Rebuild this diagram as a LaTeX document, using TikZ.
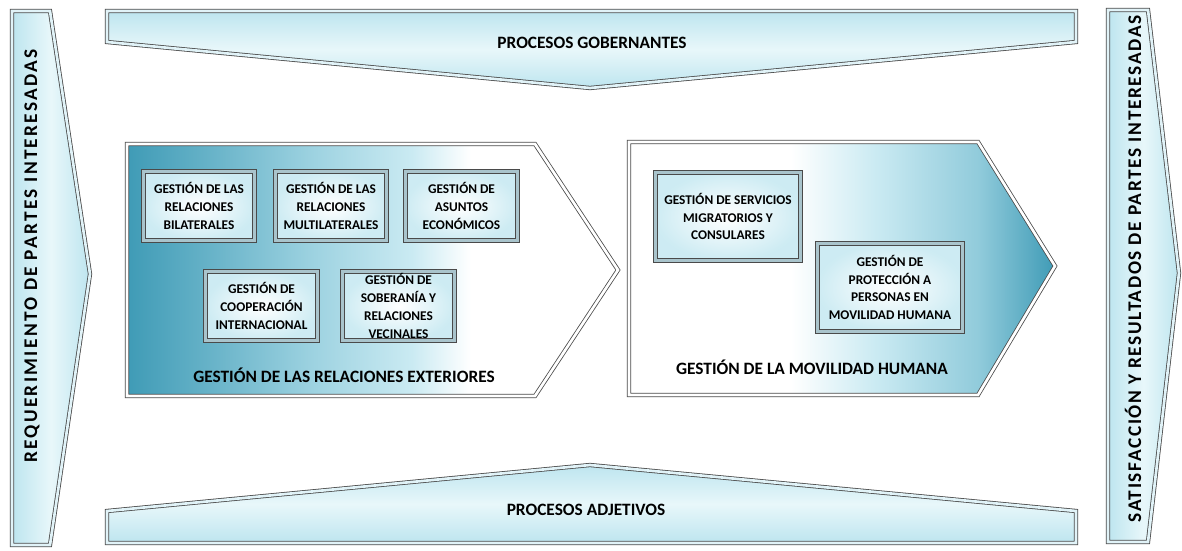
\documentclass[tikz,border=0pt]{standalone}
\usepackage{fontspec}
\setmainfont{Carlito}
\definecolor{tealdark}{HTML}{3F9BB6}
\definecolor{sky}{HTML}{BDE5EF}
\definecolor{pale}{HTML}{E8F7FA}
\definecolor{bevel}{HTML}{A9C4CC}
\definecolor{rim}{HTML}{4A4A4A}
\pgfdeclarehorizontalshading{extshade}{100bp}{color(0bp)=(tealdark); color(25bp)=(tealdark); color(33bp)=(tealdark!70!sky); color(44bp)=(tealdark!25!sky); color(54bp)=(sky!80!white); color(60bp)=(white); color(100bp)=(white)}
\pgfdeclarehorizontalshading{movshade}{100bp}{color(0bp)=(white); color(44bp)=(white); color(54bp)=(sky!80!white); color(66bp)=(tealdark!35!sky); color(75bp)=(tealdark); color(100bp)=(tealdark)}
\begin{document}
\begin{tikzpicture}[x=0.75pt,y=-0.75pt]
		\tikzset{band/.style = {draw=rim, line width=0.6pt, double=white!55!sky, double distance=2pt},
			box/.style = {draw=rim, line width=0.75pt, double=bevel, double distance=2.4pt, inner color=white, outer color=sky!75!white, minimum width=83.5pt, minimum height=52pt, align=center, inner sep=1pt, font=\bfseries\fontsize{10}{13.3}\selectfont},
			bigbox/.style = {box, minimum width=109pt, minimum height=65.5pt},
			title/.style = {font=\bfseries\fontsize{13}{15}\selectfont},
			side/.style = {rotate=90, font=\bfseries\fontsize{14.5}{17}\selectfont\addfontfeature{LetterSpace=#1}},
			side/.default = 8.5}

		\useasboundingbox (0,0) rectangle (1182,550);

		% side arrows
		\draw[band, left color=sky, right color=sky, middle color=pale] (12,11) -- (50,11) -- (90,274) -- (50,545) -- (12,545) -- cycle;
		\draw[band, left color=sky, right color=sky, middle color=pale] (1108,10) -- (1148,10) -- (1179,273) -- (1148,542) -- (1108,542) -- cycle;

		% top and bottom chevrons
		\draw[band, top color=sky, bottom color=sky, middle color=pale] (107,11) -- (1076,11) -- (1076,42) -- (590,88) -- (107,42) -- cycle;
		\draw[band, top color=sky, bottom color=sky, middle color=pale] (107,543) -- (1076,543) -- (1076,511) -- (590,465) -- (107,511) -- cycle;

		% process blocks
		\draw[band, double=white, shading=extshade] (127,144) -- (535,144) -- (618,270) -- (535,396) -- (127,396) -- cycle;
		\draw[band, double=white, shading=movshade] (629,142) -- (978,142) -- (1055,266) -- (978,395) -- (629,395) -- cycle;

		\node[side=12] (req) at (32,256) {REQUERIMIENTO  DE PARTES INTERESADAS};
		\node[side] (sat) at (1133,269) {SATISFACCIÓN Y RESULTADOS DE PARTES INTERESADAS};
		\node[title] (gob) at (592,43) {PROCESOS GOBERNANTES};
		\node[title] (adj) at (586,510) {PROCESOS ADJETIVOS};
		\node[title] (ext) at (344,375) {GESTIÓN DE LAS RELACIONES EXTERIORES};
		\node[title] (mov) at (812,367) {GESTIÓN DE LA MOVILIDAD HUMANA};

		\node[box] (B_1) at (199,206) {GESTIÓN DE LAS\\RELACIONES\\BILATERALES};
		\node[box] (B_2) at (331,206) {GESTIÓN DE LAS\\RELACIONES\\MULTILATERALES};
		\node[box] (B_3) at (461.5,206) {GESTIÓN DE\\ASUNTOS\\ECONÓMICOS};
		\node[box] (B_4) at (261.5,306) {GESTIÓN DE\\COOPERACIÓN\\INTERNACIONAL};
		\node[box] (B_5) at (398.5,306) {GESTIÓN DE\\SOBERANÍA Y\\RELACIONES\\VECINALES};
		\node[bigbox] (B_6) at (728,216.5) {GESTIÓN DE SERVICIOS\\MIGRATORIOS Y\\CONSULARES};
		\node[bigbox] (B_7) at (890,287.5) {GESTIÓN DE\\PROTECCIÓN A\\PERSONAS EN\\MOVILIDAD HUMANA};

	\end{tikzpicture}
\end{document}
